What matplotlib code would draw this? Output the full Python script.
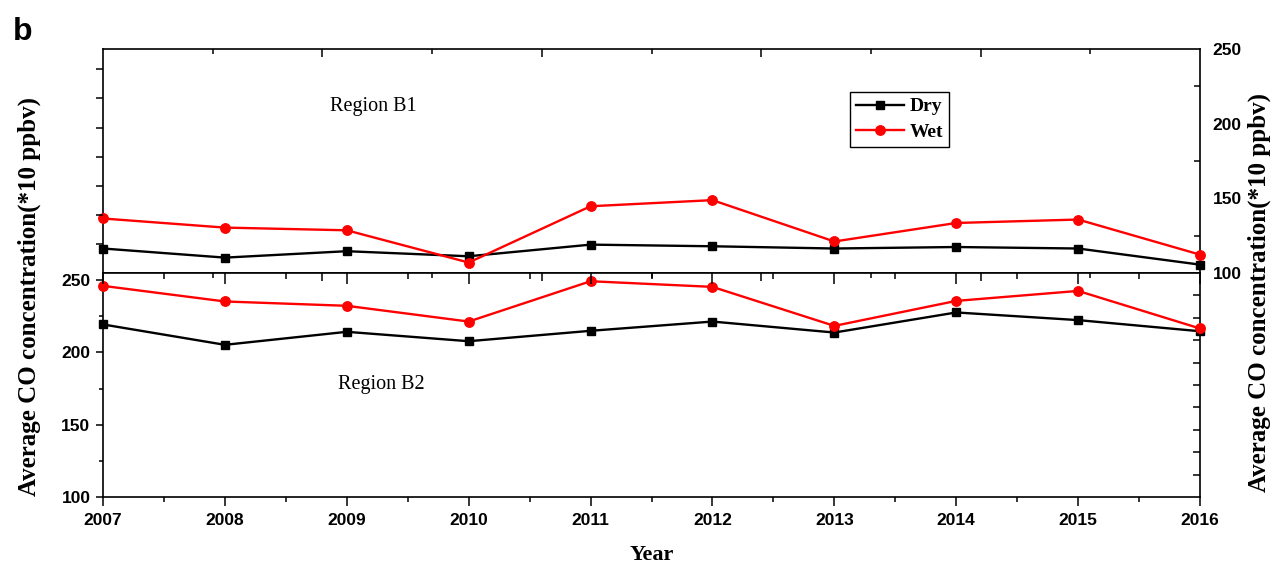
import matplotlib
matplotlib.use("Agg")
import matplotlib.pyplot as plt
from matplotlib.ticker import FixedLocator, MultipleLocator, NullFormatter
from matplotlib.lines import Line2D

# Annual mean CO, dry vs wet season (*10 ppbv)
years = [2007, 2008, 2009, 2010, 2011, 2012, 2013, 2014, 2015, 2016]
b1_dry = [116.4, 110.3, 114.6, 111.2, 119.0, 117.9, 116.4, 117.4, 116.4, 105.6]
b1_wet = [136.5, 130.4, 128.6, 107.0, 144.7, 148.8, 121.1, 133.5, 135.8, 112.3]
b2_dry = [219.4, 205.3, 214.3, 207.8, 215.0, 221.4, 213.8, 227.7, 222.4, 214.7]
b2_wet = [246.1, 235.3, 232.3, 221.4, 249.3, 245.4, 218.4, 235.7, 242.6, 216.6]

series_labels = ["Dry", "Wet"]
ylabel_text = "Average CO concentration(*10 ppbv)"

SANS = "Liberation Sans"
SERIF = "Liberation Serif"
plt.rcParams["font.family"] = [SANS, "DejaVu Sans"]
plt.rcParams["axes.linewidth"] = 1.2

W_PX, H_PX = 1272, 564
fig = plt.figure(figsize=(W_PX / 100, H_PX / 100), dpi=100)

left, width = 103 / W_PX, 1097 / W_PX
ax1 = fig.add_axes([left, 291 / H_PX, width, 224 / H_PX])
ax2 = fig.add_axes([left, 67 / H_PX, width, 224 / H_PX])

dry_style = dict(color="black", marker="s", markersize=6.2, linewidth=1.7, clip_on=False, zorder=3)
wet_style = dict(color="#ff0000", marker="o", markersize=6.8, linewidth=1.7, clip_on=False, zorder=3)

tick_font = dict(family=SANS, weight="bold", size=12.5)

# ---- upper panel: Region B1 ----
ax1.plot(years, b1_dry, **dry_style)
ax1.plot(years, b1_wet, **wet_style)

ax1_left = ax1.twinx()
ax1_top = ax1.twiny()
ax1_bot = ax1.twiny()

ax1.set_xlim(2007, 2016)
ax1.set_ylim(100, 250)
ax1.yaxis.tick_right()
ax1.yaxis.set_major_locator(MultipleLocator(50))
ax1.yaxis.set_minor_locator(MultipleLocator(25))
ax1.tick_params(axis="y", which="major", direction="in", length=0, pad=9, width=1.1)
ax1.tick_params(axis="y", which="minor", direction="in", length=4, width=1.1)
ax1.tick_params(axis="x", which="both", bottom=False, top=False, labelbottom=False)
for lab in ax1.get_yticklabels():
    lab.set_fontproperties(tick_font)

ax1_left.yaxis.tick_left()
ax1_left.set_ylim(0, 7.7)
ax1_left.yaxis.set_major_locator(FixedLocator([1, 2, 3, 4, 5, 6, 7]))
ax1_left.yaxis.set_major_formatter(NullFormatter())
ax1_left.tick_params(axis="y", direction="out", length=5, width=1.1)

for twin, side, direction in ((ax1_top, "top", "in"), (ax1_bot, "bottom", "out")):
    twin.set_xlim(0, 5)
    if side == "top":
        twin.xaxis.tick_top()
    else:
        twin.xaxis.tick_bottom()
    twin.xaxis.set_major_locator(FixedLocator([1, 2, 3, 4]))
    twin.xaxis.set_minor_locator(FixedLocator([0.5, 1.5, 2.5, 3.5, 4.5]))
    twin.xaxis.set_major_formatter(NullFormatter())
    twin.tick_params(axis="x", which="major", direction=direction, length=6, width=1.1)
    twin.tick_params(axis="x", which="minor", direction=direction, length=3.5, width=1.1)
    twin.tick_params(axis="y", left=False, right=False, labelleft=False, labelright=False)
    for sp in twin.spines.values():
        sp.set_visible(False)
for sp in ax1_left.spines.values():
    sp.set_visible(False)

# ---- lower panel: Region B2 ----
ax2.plot(years, b2_dry, **dry_style)
ax2.plot(years, b2_wet, **wet_style)

ax2_top = ax2.twiny()
ax2_right = ax2.twinx()

ax2.set_xlim(2007, 2016)
ax2.set_ylim(100, 255)
ax2.xaxis.set_major_locator(FixedLocator(years))
ax2.xaxis.set_minor_locator(MultipleLocator(0.5))
ax2.yaxis.set_major_locator(FixedLocator([100, 150, 200, 250]))
ax2.yaxis.set_minor_locator(FixedLocator([125, 175, 225]))
ax2.tick_params(axis="x", which="major", direction="out", length=6.5, width=1.1, pad=5)
ax2.tick_params(axis="x", which="minor", direction="out", length=3.5, width=1.1)
ax2.tick_params(axis="y", which="major", direction="out", length=5, width=1.1, pad=4)
ax2.tick_params(axis="y", which="minor", direction="out", length=3, width=1.1)
for lab in ax2.get_xticklabels() + ax2.get_yticklabels():
    lab.set_fontproperties(tick_font)

ax2_top.set_xlim(2007, 2016)
ax2_top.xaxis.tick_top()
ax2_top.xaxis.set_major_locator(FixedLocator(years))
ax2_top.xaxis.set_minor_locator(MultipleLocator(0.5))
ax2_top.xaxis.set_major_formatter(NullFormatter())
ax2_top.tick_params(axis="x", which="major", direction="in", length=8, width=1.1)
ax2_top.tick_params(axis="x", which="minor", direction="in", length=4, width=1.1)
ax2_top.tick_params(axis="y", left=False, right=False, labelleft=False, labelright=False)

ax2_right.set_ylim(0, 10)
ax2_right.yaxis.tick_right()
ax2_right.yaxis.set_major_locator(FixedLocator(list(range(1, 10))))
ax2_right.yaxis.set_major_formatter(NullFormatter())
ax2_right.tick_params(axis="y", direction="in", length=5, width=1.1)
for tw in (ax2_top, ax2_right):
    for sp in tw.spines.values():
        sp.set_visible(False)

# ---- annotations ----
region_font = dict(family=[SERIF, "DejaVu Serif"], size=14.5)
fig.text(373 / W_PX, 1 - 107 / H_PX, "Region B1", ha="center", va="center", **region_font)
fig.text(381 / W_PX, 1 - 384 / H_PX, "Region B2", ha="center", va="center", **region_font)

label_font = dict(family=[SERIF, "DejaVu Serif"], size=18, weight="bold")
fig.text(29 / W_PX, 1 - 297 / H_PX, ylabel_text, rotation=90, ha="center", va="center", **label_font)
fig.text(1259 / W_PX, 1 - 292 / H_PX, ylabel_text, rotation=90, ha="center", va="center", **label_font)
fig.text(652 / W_PX, 1 - 555 / H_PX, "Year", ha="center", va="center",
         family=[SERIF, "DejaVu Serif"], size=16, weight="bold")

fig.text(13 / W_PX, 1 - 40 / H_PX, "b", ha="left", va="baseline",
         family=[SANS, "DejaVu Sans"], weight="bold", size=23)

handles = [
    Line2D([], [], color="black", marker="s", markersize=6.2, linewidth=1.7),
    Line2D([], [], color="#ff0000", marker="o", markersize=6.8, linewidth=1.7),
]
fig.legend(handles, series_labels, loc="upper left",
           bbox_to_anchor=(850 / W_PX, 1 - 92 / H_PX), bbox_transform=fig.transFigure,
           prop=dict(family=[SERIF, "DejaVu Serif"], weight="bold", size=14),
           frameon=True, fancybox=False, framealpha=1, edgecolor="black",
           handlelength=2.5, handletextpad=0.25, borderpad=0.3, labelspacing=0.4,
           borderaxespad=0)

fig.savefig("out.png", dpi=100)
